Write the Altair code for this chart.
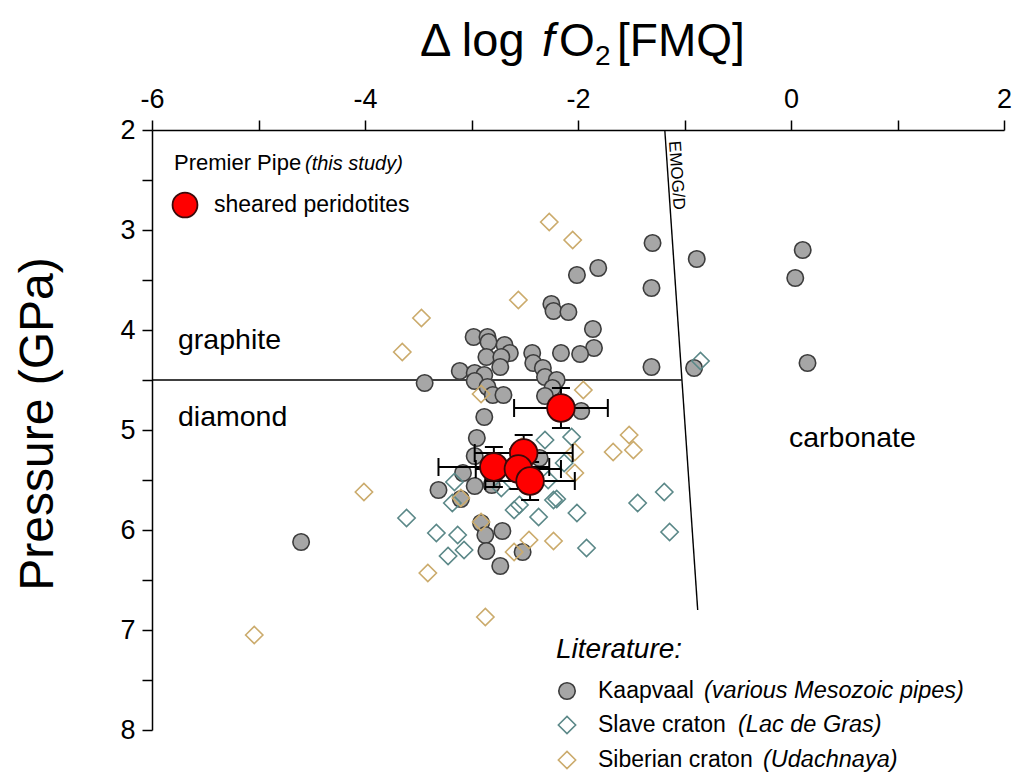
import altair as alt
import pandas as pd

# --- Kaapvaal (various Mesozoic pipes): delta log fO2 vs pressure (GPa)
kaapvaal_x = [-1.30, -1.31, -0.885, 0.11, 0.04, 0.155, -0.91, -1.31,
              -1.81, -2.01, -2.25, -2.23, -2.09, -1.86, -1.85, -1.98, -2.16, -2.43,
              -2.42, -2.33, -2.31, -2.20, -2.24, -2.31, -1.97,
              -2.98, -2.85, -2.84, -2.69, -2.64, -2.86, -2.72, -2.73, -3.11, -2.97,
              -2.88, -2.97, -2.85, -2.80, -2.70, -3.44, -2.88, -2.95, -2.97, -3.08,
              -3.31, -2.97, -3.10, -2.81, -2.36, -2.91, -2.87, -2.71, -2.86, -2.52,
              -2.73, -4.60]
kaapvaal_p = [3.13, 3.58, 3.29, 3.20, 3.48, 4.33, 4.38, 4.37,
              3.38, 3.45, 3.74, 3.81, 3.82, 3.99, 4.18, 4.24, 4.23, 4.23,
              4.33, 4.38, 4.47, 4.50, 4.58, 4.66, 4.81,
              4.07, 4.07, 4.12, 4.15, 4.23, 4.27, 4.27, 4.37, 4.41, 4.43,
              4.45, 4.51, 4.57, 4.65, 4.65, 4.53, 4.87, 5.08, 5.26, 5.43,
              5.60, 5.56, 5.69, 5.55, 5.28, 5.93, 6.05, 6.01, 6.21, 6.22,
              6.36, 6.12]

# --- Slave craton (Lac de Gras)
slave_x = [-2.31, -2.06, -2.13, -3.16, -3.18, -2.72, -2.60, -2.37, -2.23, -2.20,
           -2.28, -2.01, -3.33, -3.13, -3.07, -3.22, -1.92, -2.55, -3.61, -1.44,
           -1.19, -1.14, -0.85]
slave_p = [5.10, 5.07, 5.33, 5.52, 5.73, 5.58, 5.80, 5.87, 5.70, 5.69,
           5.50, 5.83, 6.03, 6.05, 6.20, 6.26, 6.18, 5.75, 5.88, 5.73,
           5.62, 6.02, 4.31]

# --- Siberian craton (Udachnaya)
siberia_x = [-2.27, -2.05, -2.56, -3.47, -3.65, -2.91, -1.95, -1.52, -1.67, -1.48,
             -2.03, -2.03, -3.10, -2.91, -2.46, -2.23, -2.60, -3.41, -4.01, -5.04,
             -2.87, -2.53]
siberia_p = [2.92, 3.10, 3.70, 3.88, 4.22, 4.64, 4.60, 5.05, 5.22, 5.20,
             5.22, 5.43, 5.68, 5.92, 6.10, 6.11, 6.22, 6.43, 5.62, 7.05,
             6.87, 5.17]

# --- Premier Pipe sheared peridotites (this study) with 1-sigma errors
premier_x = [-2.16, -2.51, -2.79, -2.56, -2.45]
premier_p = [4.78, 5.23, 5.37, 5.39, 5.51]
premier_xerr = [0.44, 0.46, 0.52, 0.40, 0.42]
premier_perr = [0.20, 0.18, 0.20, 0.20, 0.19]

# --- Phase boundaries
emog_x = [-1.185, -0.876]
emog_p = [2.0, 6.8]
gd_x = [-6.0, -1.026]
gd_p = [4.5, 4.5]

X_TICKS = [-6, -5, -4, -3, -2, -1, 0, 1, 2]
Y_TICKS = [2, 2.5, 3, 3.5, 4, 4.5, 5, 5.5, 6, 6.5, 7, 7.5, 8]

W, H = 852, 600
LEFT, TOP = 152, 130
FONT = "Liberation Sans"

xs = alt.Scale(domain=[-6, 2], nice=False, zero=False)
ys = alt.Scale(domain=[2, 8], nice=False, zero=False, reverse=True)

kaap = pd.DataFrame({"x": kaapvaal_x, "p": kaapvaal_p})
slav = pd.DataFrame({"x": slave_x, "p": slave_p})
sibr = pd.DataFrame({"x": siberia_x, "p": siberia_p})
prem = pd.DataFrame({"x": premier_x, "p": premier_p,
                     "xerr": premier_xerr, "perr": premier_perr})
emog = pd.DataFrame({"x": [emog_x[0]], "x2": [emog_x[1]],
                     "p": [emog_p[0]], "p2": [emog_p[1]]})
gd = pd.DataFrame({"x": [gd_x[0]], "x2": [gd_x[1]],
                   "p": [gd_p[0]], "p2": [gd_p[1]]})

GRAY_FILL, GRAY_STROKE = "#a6a6a6", "#3c3c3c"
TEAL = "#5b8888"
TAN = "#cbab6c"
RED, RED_STROKE = "#ff0000", "#3a0a0a"

x_axis = alt.Axis(orient="top", values=X_TICKS, title=None,
                  labelExpr="datum.value % 2 === 0 ? '' + datum.value : ''",
                  labelFontSize=27, labelFont=FONT, labelColor="black",
                  labelPadding=7, tickSize=10, tickColor="black", tickWidth=1.5,
                  domainColor="black", domainWidth=1.5, grid=False,
                  labelFlush=False, labelOverlap=False)
y_axis = alt.Axis(orient="left", values=Y_TICKS, title=None,
                  labelExpr="datum.value % 1 === 0 ? '' + datum.value : ''",
                  labelFontSize=27, labelFont=FONT, labelColor="black",
                  labelPadding=7, tickSize=10, tickColor="black", tickWidth=1.5,
                  domainColor="black", domainWidth=1.5, grid=False,
                  labelFlush=False, labelOverlap=False)


def X(field):
    return alt.X(field, scale=xs, axis=x_axis)


def Y(field):
    return alt.Y(field, scale=ys, axis=y_axis)


boundary_emog = alt.Chart(emog).mark_rule(color="black", strokeWidth=1.4).encode(
    x=X("x:Q"), x2="x2:Q", y=Y("p:Q"), y2="p2:Q")
boundary_gd = alt.Chart(gd).mark_rule(color="black", strokeWidth=1.4).encode(
    x=X("x:Q"), x2="x2:Q", y=Y("p:Q"), y2="p2:Q")

kaap_pts = alt.Chart(kaap).mark_point(
    shape="circle", size=270, filled=True, fill=GRAY_FILL, stroke=GRAY_STROKE,
    strokeWidth=1.6, opacity=1).encode(x=X("x:Q"), y=Y("p:Q"))
slav_pts = alt.Chart(slav).mark_point(
    shape="diamond", size=300, filled=False, color=TEAL, strokeWidth=1.6,
    opacity=1).encode(x=X("x:Q"), y=Y("p:Q"))
sibr_pts = alt.Chart(sibr).mark_point(
    shape="diamond", size=300, filled=False, color=TAN, strokeWidth=1.6,
    opacity=1).encode(x=X("x:Q"), y=Y("p:Q"))

prem_base = alt.Chart(prem).transform_calculate(
    xlo="datum.x - datum.xerr", xhi="datum.x + datum.xerr",
    plo="datum.p - datum.perr", phi="datum.p + datum.perr")

err_h = prem_base.mark_rule(color="black", strokeWidth=2).encode(
    x=X("xlo:Q"), x2="xhi:Q", y=Y("p:Q"))
err_v = prem_base.mark_rule(color="black", strokeWidth=2).encode(
    x=X("x:Q"), y=Y("plo:Q"), y2="phi:Q")
cap_l = prem_base.mark_tick(orient="vertical", size=18, thickness=2, color="black",
                            opacity=1).encode(x=X("xlo:Q"), y=Y("p:Q"))
cap_r = prem_base.mark_tick(orient="vertical", size=18, thickness=2, color="black",
                            opacity=1).encode(x=X("xhi:Q"), y=Y("p:Q"))
cap_t = prem_base.mark_tick(orient="horizontal", size=18, thickness=2, color="black",
                            opacity=1).encode(x=X("x:Q"), y=Y("plo:Q"))
cap_b = prem_base.mark_tick(orient="horizontal", size=18, thickness=2, color="black",
                            opacity=1).encode(x=X("x:Q"), y=Y("phi:Q"))
prem_pts = prem_base.mark_point(
    shape="circle", size=760, filled=True, fill=RED, stroke=RED_STROKE,
    strokeWidth=1.8, opacity=1).encode(x=X("x:Q"), y=Y("p:Q"))

one = pd.DataFrame({"k": [0]})


def label(text, px, py, size, style="normal", align="left", angle=0,
          baseline="middle"):
    # px, py are page pixels; the plot origin sits at (LEFT, TOP)
    kw = dict(text=text, align=align, baseline=baseline, fontSize=size,
              font=FONT, color="black", fontStyle=style)
    if angle:
        kw["angle"] = angle
    return alt.Chart(one).mark_text(**kw).encode(
        x=alt.value(px - LEFT), y=alt.value(py - TOP))


def symbol(px, py, shape, size, **style):
    return alt.Chart(one).mark_point(shape=shape, size=size, opacity=1,
                                     **style).encode(
        x=alt.value(px - LEFT), y=alt.value(py - TOP))


texts = [
    # top title: Δ log fO2 [FMQ]
    label("Δ log", 420, 56, 47, baseline="alphabetic"),
    label("f", 542, 56, 46, style="italic", baseline="alphabetic"),
    label("O", 559, 56, 46, baseline="alphabetic"),
    label("2", 595, 65, 28, baseline="alphabetic"),
    label("[FMQ]", 617, 56, 46, baseline="alphabetic"),
    # left title
    label("Pressure (GPa)", 39, 424, 48, align="center", angle=270),
    # field labels
    label("graphite", 178, 340, 28.5),
    label("diamond", 178, 417, 28.5),
    label("carbonate", 789, 438, 28.5),
    label("EMOG/D", 674, 141, 17, angle=86, baseline="middle"),
    # legend: this study
    label("Premier Pipe", 174, 163, 22),
    label("(this study)", 305, 164, 20, style="italic"),
    label("sheared peridotites", 214, 205, 23),
    # legend: literature
    label("Literature:", 556, 650, 28, style="italic"),
    label("Kaapvaal", 598, 691, 23),
    label("(various Mesozoic pipes)", 704, 691, 23.5, style="italic"),
    label("Slave craton", 598, 725, 23),
    label("(Lac de Gras)", 738, 725, 23.5, style="italic"),
    label("Siberian craton", 598, 760, 23),
    label("(Udachnaya)", 763, 760, 23.5, style="italic"),
]

symbols = [
    symbol(185, 205, "circle", 620, filled=True, fill=RED, stroke=RED_STROKE,
           strokeWidth=1.8),
    symbol(567, 691, "circle", 270, filled=True, fill=GRAY_FILL,
           stroke=GRAY_STROKE, strokeWidth=1.6),
    symbol(567, 725, "diamond", 300, filled=False, color=TEAL, strokeWidth=1.6),
    symbol(567, 760, "diamond", 300, filled=False, color=TAN, strokeWidth=1.6),
]

chart = alt.layer(
    boundary_gd, boundary_emog,
    kaap_pts, slav_pts, sibr_pts,
    err_h, err_v, cap_l, cap_r, cap_t, cap_b, prem_pts,
    *texts, *symbols,
).properties(
    width=W, height=H,
    autosize=alt.AutoSizeParams(type="none"),
    padding={"left": LEFT, "top": TOP, "right": 1014 - LEFT - W,
             "bottom": 779 - TOP - H},
    background="white",
).configure(font=FONT).configure_view(stroke=None)

chart.save("out.html", embed_options={"renderer": "svg", "actions": False})
